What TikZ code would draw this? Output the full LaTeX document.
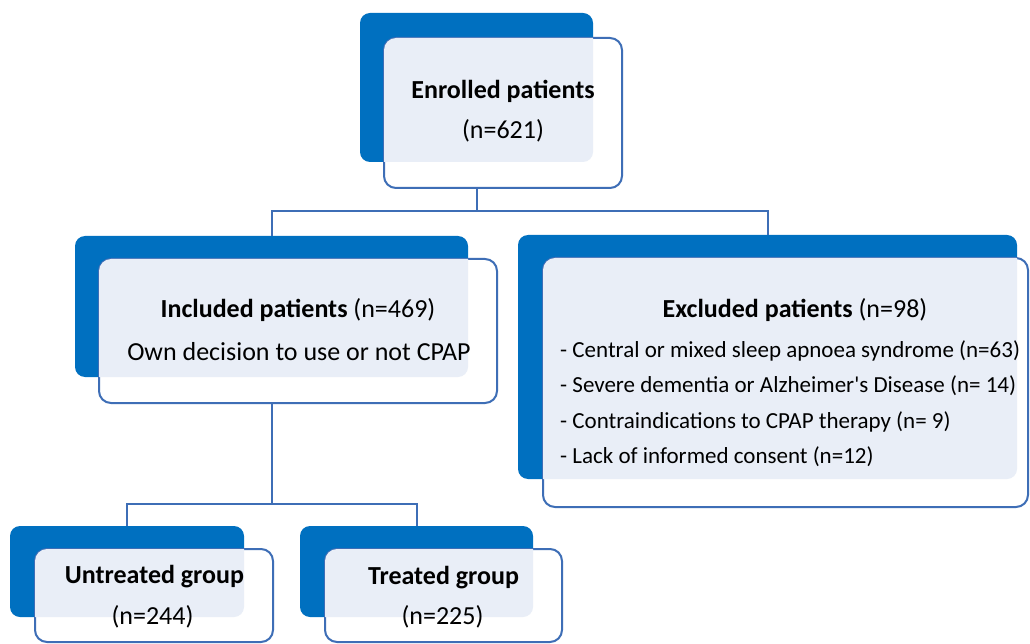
\documentclass[tikz,border=0pt]{standalone}
\usepackage{fontspec}
\setmainfont{Carlito}
\definecolor{darkblue}{RGB}{0,112,192}
\definecolor{edgeblue}{RGB}{62,110,182}
\definecolor{paleblue}{RGB}{233,238,247}
\newcommand\myovl[2]{%
  \begin{scope}
    \clip[rounded corners=10pt] (#1.south west) rectangle (#1.north east);
    \fill[paleblue, rounded corners=12pt] (#2.south west) rectangle (#2.north east);
  \end{scope}}
\begin{document}
\begin{tikzpicture}[x=1pt,y=-1pt,
  backbox/.style={fill=darkblue, draw=none, rounded corners=10pt, inner sep=0pt, outer sep=0pt},
  frontbox/.style={fill=white, draw=edgeblue, line width=2pt, rounded corners=12pt, inner sep=0pt, outer sep=0pt},
  conn/.style={draw=edgeblue, line width=2pt},
  lbl/.style={font=\fontsize{26}{31}\selectfont, inner sep=0pt, anchor=base},
  lblb/.style={font=\fontsize{26}{31}\selectfont\bfseries, inner sep=0pt, anchor=base},
  lst/.style={font=\fontsize{23}{28}\selectfont, inner sep=0pt, anchor=base west}]
\fill[white] (0,0) rectangle (1030,644);
\useasboundingbox (0,0) rectangle (1030,644);

% Enrolled
\node[backbox, minimum width=233pt, minimum height=149pt] (enrB) at (476.5,87.5) {};
\node[frontbox, minimum width=238pt, minimum height=150pt] (enr) at (503,113) {};
\myovl{enrB}{enr}
\node[lblb] (enrT1) at (503,99) {Enrolled patients};
\node[lbl] (enrT2) at (503,139) {(n=621)};

% Included
\node[backbox, minimum width=393pt, minimum height=141pt] (incB) at (271.5,306.5) {};
\node[frontbox, minimum width=398pt, minimum height=144pt] (inc) at (298,331) {};
\myovl{incB}{inc}
\node[lbl] (incT1) at (298,317) {\textbf{Included patients} (n=469)};
\node[lbl] (incT2) at (299,360) {Own decision to use or not CPAP};

% Excluded
\node[backbox, minimum width=499pt, minimum height=244pt] (excB) at (767.5,357) {};
\node[frontbox, minimum width=485pt, minimum height=249pt] (exc) at (785.5,382.5) {};
\myovl{excB}{exc}
\node[lbl] (excT) at (795,317) {\textbf{Excluded patients} (n=98)};
\node[lst] (excL1) at (560,357) {- Central or mixed sleep apnoea syndrome (n=63)};
\node[lst] (excL2) at (560,392.5) {- Severe dementia or Alzheimer\textquotesingle s Disease (n= 14)};
\node[lst] (excL3) at (560,428) {- Contraindications to CPAP therapy (n= 9)};
\node[lst] (excL4) at (560,463) {- Lack of informed consent (n=12)};

% Untreated
\node[backbox, minimum width=234pt, minimum height=91pt] (untB) at (127,571.5) {};
\node[frontbox, minimum width=238pt, minimum height=93pt] (unt) at (154,595.5) {};
\myovl{untB}{unt}
\node[lblb] (untT1) at (154.5,583) {Untreated group};
\node[lbl] (untT2) at (152.5,624) {(n=244)};

% Treated
\node[backbox, minimum width=233pt, minimum height=91pt] (treB) at (416.5,571.5) {};
\node[frontbox, minimum width=237pt, minimum height=93pt] (tre) at (443.5,595.5) {};
\myovl{treB}{tre}
\node[lblb] (treT1) at (443.5,584) {Treated group};
\node[lbl] (treT2) at (442.5,624) {(n=225)};

% Connectors
\coordinate (j1) at (476.5,211);
\draw[conn] (enrB.center |- enr.south) -- (j1);
\draw[conn] (incB.north) |- (j1) -| (excB.north);
\coordinate (j2) at (271.5,504);
\draw[conn] (incB.center |- inc.south) -- (j2);
\draw[conn] (untB.north) |- (j2) -| (treB.north);
\end{tikzpicture}
\end{document}
